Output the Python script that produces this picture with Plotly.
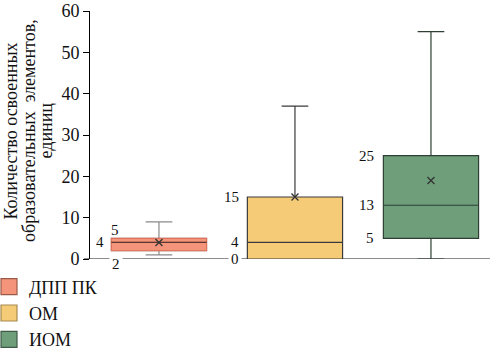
import plotly.graph_objects as go

# ---- data ----
categories = ["ДПП ПК", "ОМ", "ИОМ"]
q1_vals = [2, 0, 5]
median_vals = [4, 4, 13]
q3_vals = [5, 15, 25]
lower_whisker = [1, 0, 0]
upper_whisker = [9, 37, 55]
mean_vals = [4, 15, 19]
y_ticks = [0, 10, 20, 30, 40, 50, 60]
y_title_lines = ["Количество освоенных", "образовательных\u00a0 элементов,", "единиц"]

# ---- styles ----
fills = ["#F4947A", "#F6CB77", "#6E9F7A"]
outlines = ["#E0715A", "#3a3a3a", "#2f3f34"]
whisker_cols = ["#8a8a8a", "#3a3a3a", "#2f3f34"]
legend_borders = ["#9a5a48", "#a58a50", "#3f5a46"]
FONT = "Liberation Serif"

fig = go.Figure()

for i, cat in enumerate(categories):
    # full box with whiskers
    fig.add_trace(go.Box(
        x=[cat], q1=[q1_vals[i]], median=[median_vals[i]], q3=[q3_vals[i]],
        lowerfence=[lower_whisker[i]], upperfence=[upper_whisker[i]],
        fillcolor=fills[i], line=dict(color=whisker_cols[i], width=1.2),
        width=0.7, whiskerwidth=0.28, boxpoints=False, showlegend=False,
        hoverinfo="skip"))
    if i == 0:
        # coloured outline of the box body (no whiskers)
        fig.add_trace(go.Box(
            x=[cat], q1=[q1_vals[i]], median=[median_vals[i]], q3=[q3_vals[i]],
            lowerfence=[q1_vals[i]], upperfence=[q3_vals[i]],
            fillcolor=fills[i], line=dict(color=outlines[i], width=1.2),
            width=0.7, whiskerwidth=0, boxpoints=False, showlegend=False,
            hoverinfo="skip"))
        # dark median line
        fig.add_trace(go.Box(
            x=[cat], q1=[median_vals[i]], median=[median_vals[i]], q3=[median_vals[i]],
            lowerfence=[median_vals[i]], upperfence=[median_vals[i]],
            fillcolor="rgba(0,0,0,0)", line=dict(color="#5a3a30", width=1.2),
            width=0.7, whiskerwidth=0, boxpoints=False, showlegend=False,
            hoverinfo="skip"))

# mean markers
fig.add_trace(go.Scatter(
    x=categories, y=mean_vals, mode="markers",
    marker=dict(symbol="x-thin", size=7, line=dict(color="#333333", width=1.3)),
    showlegend=False, hoverinfo="skip"))

# legend entries
for i, cat in enumerate(categories):
    fig.add_trace(go.Scatter(
        x=[None], y=[None], mode="markers", name=cat,
        marker=dict(symbol="square", size=16, color=fills[i],
                    line=dict(color=legend_borders[i], width=1.2))))

# value labels next to boxes
label_specs = []
for i in range(len(categories)):
    label_specs.append((i, q3_vals[i]))
    label_specs.append((i, median_vals[i]))
    label_specs.append((i, q1_vals[i]))

offsets = {
    (0, 0): (4, 8, "center", False),
    (0, 1): (-4, 0, "right", False),
    (0, 2): (5, -13, "center", True),
    (1, 0): (-5, 0, "right", False),
    (1, 1): (-5, 0, "right", False),
    (1, 2): (-5, 0, "right", True),
    (2, 0): (-6, 0, "right", False),
    (2, 1): (-6, 0, "right", False),
    (2, 2): (-6, 0, "right", False),
}
for k, (i, val) in enumerate(label_specs):
    xs, ys, xa, bg = offsets[(i, k % 3)]
    fig.add_annotation(
        x=i - 0.35, y=val, xref="x", yref="y", text=str(val), showarrow=False,
        xanchor=xa, yanchor="middle", xshift=xs, yshift=ys,
        font=dict(family=FONT, size=15, color="#111111"),
        bgcolor="white" if bg else None, borderpad=2)

# y title as three rotated lines
for j, line in enumerate(y_title_lines):
    fig.add_annotation(
        x=(11.5 + 17.5 * j - 90) / 400, y=0.516, xref="paper", yref="paper",
        text=line, textangle=-90, showarrow=False, xanchor="center", yanchor="middle",
        font=dict(family=FONT, size=18, color="#111111"))

# gray baseline
fig.add_shape(type="line", xref="paper", yref="y", x0=-0.015, x1=1, y0=0, y1=0,
              line=dict(color="#8c8c8c", width=2), layer="below")

fig.update_layout(
    width=490, height=349,
    margin=dict(l=90, r=0, t=11, b=90, autoexpand=False),
    paper_bgcolor="white", plot_bgcolor="white",
    boxmode="overlay",
    font=dict(family=FONT, size=18, color="#111111"),
    showlegend=True,
    legend=dict(x=-0.2525, y=-0.038, xanchor="left", yanchor="top",
                orientation="v",
                font=dict(family=FONT, size=18, color="#111111"),
                bgcolor="rgba(0,0,0,0)"),
)
fig.update_xaxes(type="category", range=[-0.507, 2.434], showticklabels=False,
                 ticks="", showgrid=False, zeroline=False, showline=False)
fig.update_yaxes(range=[0, 60], tickvals=y_ticks, showgrid=False, zeroline=False,
                 showline=True, linecolor="black", linewidth=1,
                 ticks="outside", ticklen=6, tickcolor="black", tickwidth=1,
                 tickfont=dict(family=FONT, size=18, color="#111111"))

fig.write_html("out.html")
